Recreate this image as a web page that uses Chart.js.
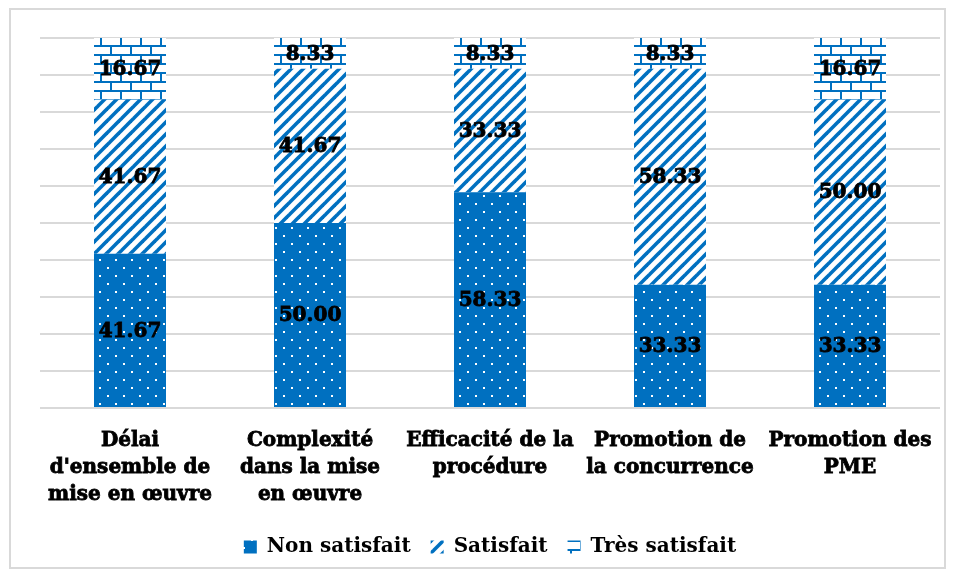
<!DOCTYPE html>
<html>
<head>
<meta charset="utf-8">
<script src="https://cdn.jsdelivr.net/npm/chart.js@4/dist/chart.umd.min.js"></script>
<style>
  html, body { margin: 0; padding: 0; background: #ffffff; }
  #wrap { position: absolute; left: 0; top: 0; width: 954px; height: 577px; }
</style>
</head>
<body>
<div id="wrap"><canvas id="c" width="954" height="577"></canvas></div>
<script>
// ---- data ----
const categories = [
  ["Délai", "d'ensemble de", "mise en œuvre"],
  ["Complexité", "dans la mise", "en œuvre"],
  ["Efficacité de la", "procédure"],
  ["Promotion de", "la concurrence"],
  ["Promotion des", "PME"]
];
const seriesNames = ["Non satisfait", "Satisfait", "Très satisfait"];
const nonSatisfait = [41.67, 50.00, 58.33, 33.33, 33.33];
const satisfait = [41.67, 41.67, 33.33, 58.33, 50.00];
const tresSatisfait = [16.67, 8.33, 8.33, 8.33, 16.67];

const BLUE = '#0070C0';
const FONT = "'DejaVu Serif', serif";

function makeTile(w, h, draw) {
  const t = document.createElement('canvas');
  t.width = w; t.height = h;
  const g = t.getContext('2d');
  draw(g, w, h);
  return document.getElementById('c').getContext('2d').createPattern(t, 'repeat');
}
const dotPattern = makeTile(16, 16, (g, w, h) => {
  g.fillStyle = BLUE; g.fillRect(0, 0, w, h);
  g.fillStyle = '#ffffff';
  g.fillRect(3, 3, 2, 2);
  g.fillRect(11, 11, 2, 2);
});
const stripePattern = makeTile(12, 12, (g, w, h) => {
  g.fillStyle = '#ffffff'; g.fillRect(0, 0, w, h);
  g.strokeStyle = BLUE; g.lineWidth = 3.6;
  for (let k = -1; k <= 1; k++) {
    g.beginPath();
    g.moveTo(k * w - 2, h + 2);
    g.lineTo(k * w + w + 2, -2);
    g.stroke();
  }
});
const brickPattern = makeTile(20, 18, (g, w, h) => {
  g.fillStyle = '#ffffff'; g.fillRect(0, 0, w, h);
  g.fillStyle = BLUE;
  g.fillRect(0, 0, w, 2);
  g.fillRect(0, 9, w, 2);
  g.fillRect(0, 0, 2, 9);
  g.fillRect(10, 9, 2, 9);
});

const labelPlugin = {
  id: 'segLabels',
  afterDatasetsDraw(chart) {
    const ctx = chart.ctx;
    ctx.save();
    ctx.font = "bold 20px " + FONT;
    ctx.fillStyle = '#000000';
    ctx.strokeStyle = '#000000';
    ctx.lineWidth = 0.8;
    ctx.textAlign = 'center';
    ctx.textBaseline = 'middle';
    chart.data.datasets.forEach((ds, i) => {
      const meta = chart.getDatasetMeta(i);
      meta.data.forEach((el, j) => {
        const p = el.getCenterPoint();
        const txt = Number(ds.data[j]).toFixed(2);
        ctx.fillText(txt, p.x, p.y + 1);
        ctx.strokeText(txt, p.x, p.y + 1);
      });
    });
    ctx.restore();
  }
};
const framePlugin = {
  id: 'frame',
  beforeDraw(chart) {
    const ctx = chart.ctx;
    ctx.save();
    ctx.fillStyle = '#ffffff';
    ctx.fillRect(0, 0, chart.width, chart.height);
    ctx.strokeStyle = '#d9d9d9';
    ctx.lineWidth = 2;
    ctx.strokeRect(10, 9, 935, 559);
    ctx.restore();
  }
};

new Chart(document.getElementById('c'), {
  type: 'bar',
  data: {
    labels: categories,
    datasets: [
      { label: seriesNames[0], data: nonSatisfait, backgroundColor: dotPattern },
      { label: seriesNames[1], data: satisfait, backgroundColor: stripePattern },
      { label: seriesNames[2], data: tresSatisfait, backgroundColor: brickPattern }
    ]
  },
  options: {
    responsive: false,
    devicePixelRatio: 1,
    animation: false,
    categoryPercentage: 1.0,
    barPercentage: 0.4,
    layout: { padding: { left: 40, right: 14, top: 38, bottom: 10 } },
    scales: {
      x: {
        stacked: true,
        grid: { display: false },
        border: { display: false },
        ticks: {
          color: '#000000',
          font: { family: FONT, size: 20, weight: 'bold', lineHeight: 1.35 },
          textStrokeColor: '#000000',
          textStrokeWidth: 0.8,
          padding: 11,
          maxRotation: 0,
          autoSkip: false
        },
        afterFit(s) { s.height = 109; }
      },
      y: {
        stacked: true,
        min: 0, max: 100,
        ticks: { display: false, stepSize: 10 },
        grid: { color: '#d9d9d9', lineWidth: 2, drawTicks: false },
        border: { display: false },
        afterFit(s) { s.width = 0; }
      }
    },
    plugins: {
      legend: {
        position: 'bottom',
        labels: {
          color: '#000000',
          font: { family: FONT, size: 20, weight: 'bold' },
          boxWidth: 13,
          boxHeight: 13,
          padding: 20
        }
      },
      tooltip: { enabled: false }
    }
  },
  plugins: [framePlugin, labelPlugin]
});
</script>
</body>
</html>
